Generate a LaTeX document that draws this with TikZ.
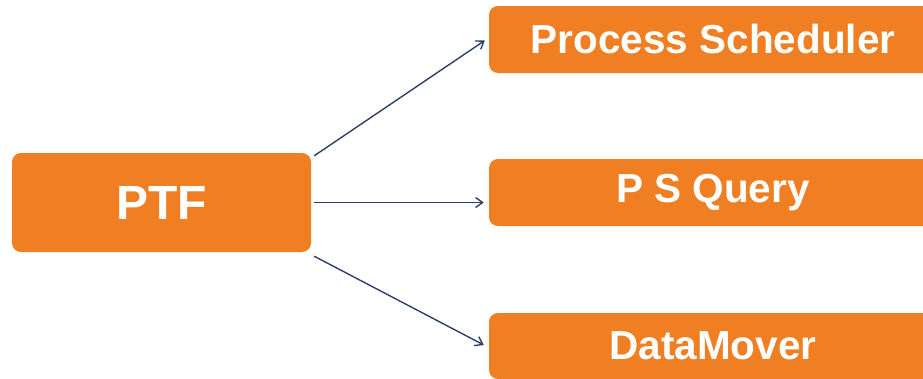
\documentclass[tikz,border=0pt]{standalone}
\usepackage{fontspec}
\setmainfont{Liberation Sans}
\usetikzlibrary{calc,arrows.meta}
\definecolor{boxorange}{HTML}{F07E22}
\definecolor{arrownavy}{HTML}{2E4068}
\begin{document}
\begin{tikzpicture}[x=1pt,y=-1pt,
  obox/.style={fill=boxorange, draw=none, rounded corners=9pt, text=white,
     font=\bfseries, inner sep=0pt},
  conn/.style={draw=arrownavy, line width=1.4pt, -{Straight Barb[length=7pt,width=10pt,line width=1.4pt]}}]
\useasboundingbox (0,0) rectangle (923,378);
\clip (0,0) rectangle (923,378);
\node[obox, minimum width=299pt, minimum height=99pt, font=\bfseries\fontsize{48}{52}\selectfont] (ptf) at (161.5,202.5) {PTF};
\node[obox, minimum width=448pt, minimum height=67pt, font=\bfseries\fontsize{40.5}{45}\selectfont] (ps) at (713,39.5) {Process Scheduler};
\node[obox, minimum width=448pt, minimum height=67pt, font=\bfseries\fontsize{40.5}{45}\selectfont] (psq) at (713,192.5) {P S Query};
\node[obox, minimum width=448pt, minimum height=66pt, font=\bfseries\fontsize{40.5}{45}\selectfont] (dm) at (713,346) {DataMover};
\draw[conn] ($(ptf.north east)+(3,3)$) -- ($(ps.west)+(-4,1)$);
\draw[conn] ($(ptf.east)+(3,0)$) -- ($(psq.west)+(-5,10)$);
\draw[conn] ($(ptf.south east)+(3,4)$) -- ($(dm.west)+(-5,-1)$);
\end{tikzpicture}
\end{document}
